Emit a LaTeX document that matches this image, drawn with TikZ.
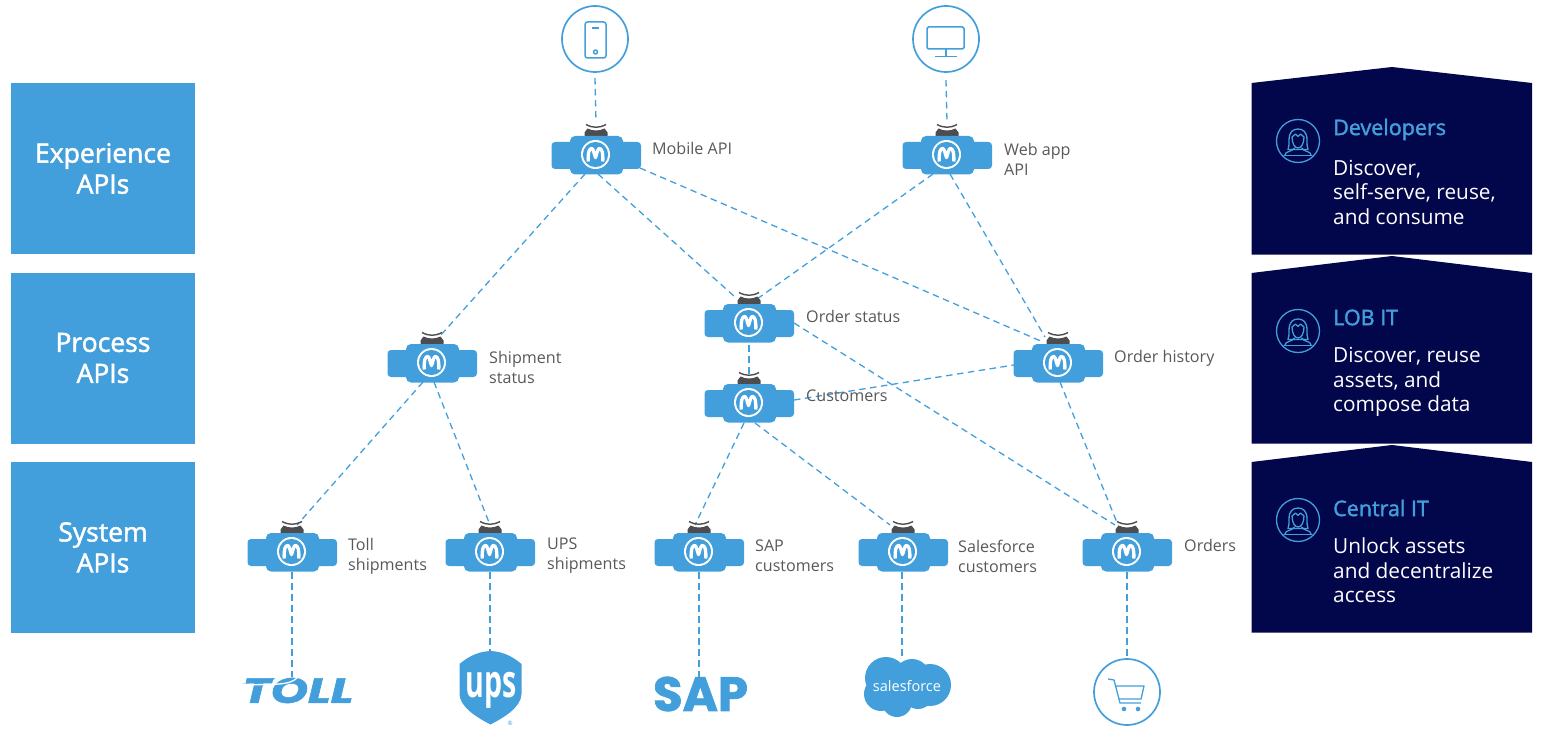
\documentclass[tikz,border=0pt]{standalone}
\usepackage{fontspec}
\setmainfont{Open Sans}
\newfontfamily\medfont[FakeBold=1.8]{Open Sans}
\newfontfamily\logofont[FakeBold=1.5]{Poppins}
\usetikzlibrary{backgrounds}
\definecolor{mblue}{HTML}{439FDB}
\definecolor{navy}{HTML}{02064A}
\definecolor{tabgray}{HTML}{4D4D4F}
\definecolor{labelgray}{HTML}{58585A}
\tikzset{
  conn/.style={draw=mblue,line width=1.3pt,dash pattern=on 6.5pt off 4.5pt},
  tier/.style={fill=mblue,draw=none,text=white,minimum width=184pt,minimum height=171pt,inner sep=0pt,align=center,font=\medfont\fontsize{26.5}{31}\selectfont},
  apibox/.style={draw=none,minimum width=90pt,minimum height=38pt,inner sep=0pt},
  apilabel/.style={text=labelgray,anchor=west,align=left,inner sep=0pt,font=\fontsize{16.1}{20}\selectfont},
  icon/.style={draw=mblue,line width=1.7pt,fill=white,circle,minimum size=66pt,inner sep=0pt},
  glyph/.style={draw=mblue,line width=1.5pt,line join=round},
  title/.style={text=mblue,anchor=west,inner sep=0pt,font=\medfont\fontsize{21.5}{24}\selectfont},
  bodytext/.style={text=white,anchor=north west,align=left,inner sep=0pt,font=\fontsize{20.8}{24.5}\selectfont},
  persona/.style={draw=mblue,line width=1.3pt,line join=round,line cap=round}
}
% name, x, y
\newcommand{\apinode}[3]{%
  \node[apibox] (#1) at (#2,#3) {};
  \begin{scope}[shift={(#2,#3)}]
    \fill[tabgray] (-11.5,-18) -- (-11.5,-22.5) -- (-8.5,-26.5) .. controls (-3,-23.8) and (3,-23.8) .. (8.5,-26.5) -- (11.5,-22.5) -- (11.5,-18) -- cycle;
    \fill[mblue,rounded corners=3.5pt] (-44.5,-13) rectangle (45,14);
    \fill[mblue,rounded corners=5pt] (-26,-19) rectangle (27,19.5);
    \draw[tabgray,line width=1.4pt] (-10,-30.5) .. controls (-3,-26.8) and (3,-26.8) .. (10,-30.5);
    \fill[white] (-0.5,-0.5) circle (14.5);
    \fill[mblue] (-0.5,-0.5) circle (12.6);
    \draw[white,line width=3.3pt,line join=round,line cap=butt]
      (-7.8,6.5) .. controls (-8.2,-2) and (-7,-6.6) .. (-4.3,-6.6)
      .. controls (-2.6,-6.6) and (-1.6,0) .. (-0.5,2.6)
      .. controls (0.6,0) and (1.6,-6.6) .. (3.3,-6.6)
      .. controls (6,-6.6) and (7.2,-2) .. (6.8,6.5);
  \end{scope}
}
% x, y of the persona icon
\newcommand{\personicon}[2]{%
  \begin{scope}[shift={(#1,#2)}]
    \draw[persona] (0,0) circle (21.5);
    \draw[persona] (-9,-1) .. controls (-9,-9) and (-5,-12) .. (0,-12) .. controls (5,-12) and (9,-9) .. (9,-1)
      .. controls (9,3) and (9,6) .. (10,8.5) -- (-10,8.5) .. controls (-9,6) and (-9,3) .. (-9,-1);
    \draw[persona] (-6,-4) -- (-2.5,-7) -- (0,-4.5) -- (2.5,-7) -- (6,-4) .. controls (6,3) and (3,7) .. (0,7) .. controls (-3,7) and (-6,3) .. (-6,-4);
    \draw[persona] (-13,14) .. controls (-13,10) and (-6,11) .. (-3.5,7);
    \draw[persona] (13,14) .. controls (13,10) and (6,11) .. (3.5,7);
    \draw[persona] (-14,14.5) -- (14,14.5);
  \end{scope}
}
\begin{document}
\begin{tikzpicture}[x=1pt,y=-1pt]
\useasboundingbox (0,0) rectangle (1541,738);
% tiers
\node[tier] (exp) at (103,168.5) {Experience\\APIs};
\node[tier] (proc) at (103,358) {Process\\APIs};
\node[tier] (sys) at (103,547.5) {System\\APIs};
% audience panels
\fill[navy] (1251.5,83) -- (1392,67) -- (1532,83) -- (1532,254.5) -- (1251.5,254.5) -- cycle;
\fill[navy] (1251.5,273) -- (1392,256) -- (1532,273) -- (1532,443.5) -- (1251.5,443.5) -- cycle;
\fill[navy] (1251.5,462) -- (1392,445) -- (1532,462) -- (1532,632.5) -- (1251.5,632.5) -- cycle;
\personicon{1298}{141}
\personicon{1298}{331}
\personicon{1298}{520}
\node[title] (t1) at (1333,129.5) {Developers};
\node[bodytext] (b1) at (1333,160) {Discover,\\self-serve, reuse,\\and consume};
\node[title] (t2) at (1333,317.5) {LOB IT};
\node[bodytext] (b2) at (1333,347.5) {Discover, reuse\\assets, and\\compose data};
\node[title] (t3) at (1333,508) {Central IT};
\node[bodytext] (b3) at (1333,537.5) {Unlock assets\\and decentralize\\access};
% api nodes
\apinode{mobile}{596}{155}
\apinode{webapp}{947}{155}
\apinode{orderstatus}{749}{323}
\apinode{shipment}{432}{363}
\apinode{customers}{749}{403}
\apinode{orderhistory}{1058}{363}
\apinode{toll}{292}{552}
\apinode{ups}{490}{552}
\apinode{sap}{699}{552}
\apinode{sfdc}{903}{552}
\apinode{orders}{1127}{552}
% end points
\node[icon] (phone) at (595,39) {};
\node[icon] (desktop) at (946,39) {};
\node[icon] (cart) at (1127,692) {};
\draw[glyph,rounded corners=2.5pt] (585,22) rectangle (606,58);
\draw[glyph] (592,28) -- (599,28);
\draw[glyph] (595.5,52) circle (2);
\draw[glyph,rounded corners=1.5pt] (927,27) rectangle (964,49);
\draw[glyph] (946,49) -- (946,56) (935,56.5) -- (957,56.5);
\draw[glyph,line width=1.3pt] (1108,679) -- (1114,680) -- (1120,703) -- (1141,703) (1116,686) -- (1144,686) -- (1141,699) -- (1119,699);
\fill[mblue] (1124,709) circle (2.3) (1138,709) circle (2.3);
% logos
\node[inner sep=0pt,text=mblue,xscale=1.36] (tolllogo) at (298,690.5) {\logofont\bfseries\itshape\fontsize{35}{35}\selectfont TOLL};
\draw[white,line width=1.3pt] (238,685) .. controls (275,684) and (290,686) .. (298,677);
\fill[mblue] (242,684) -- (275,678) -- (272,681) -- cycle;
\fill[mblue] (459.5,664) .. controls (470,655) and (480,651.5) .. (490.5,651) .. controls (501,651.5) and (511,655) .. (521.5,664)
  -- (521.5,694) .. controls (521,707) and (505,717) .. (490.5,724.5) .. controls (476,717) and (460,707) .. (459.5,694) -- cycle;
\node[inner sep=0pt,text=white,xscale=0.68,yscale=1.08] (upslogo) at (491,690) {\fontsize{42}{42}\selectfont\bfseries ups};
\node[inner sep=0pt,text=mblue] (upsreg) at (510,723) {\fontsize{6}{6}\selectfont ®};
\node[inner sep=0pt,text=mblue] (saplogo) at (700.5,694) {\logofont\bfseries\fontsize{48}{48}\selectfont SAP};
\fill[mblue] (886,678) circle (21) (912,677) circle (18) (930,685) circle (21) (881,694) circle (17) (897,702) circle (15) (918,694) circle (15) (905,685) circle (20);
\node[inner sep=0pt,text=white] (sflogo) at (907,686) {\fontsize{14.5}{14.5}\selectfont salesforce};
% free ends of the connectors on the logos
\coordinate (tollend) at (292,677);
\coordinate (upsend) at (490,652);
\coordinate (sapend) at (699,680);
\coordinate (sfend) at (902,658);
% connectors
\begin{scope}[on background layer]
\draw[conn] ([shift={(0,39)}]phone.center) -- ([shift={(0,-33)}]mobile.center);
\draw[conn] ([shift={(0,41)}]desktop.center) -- ([shift={(0,-33)}]webapp.center);
\draw[conn] ([shift={(-11,19)}]mobile.center) -- ([shift={(8,-27)}]shipment.center);
\draw[conn] ([shift={(2,19)}]mobile.center) -- ([shift={(-14,-26)}]orderstatus.center);
\draw[conn] ([shift={(44,13)}]mobile.center) -- ([shift={(-15,-21)}]orderhistory.center);
\draw[conn] ([shift={(-14,19)}]webapp.center) -- ([shift={(8,-24)}]orderstatus.center);
\draw[conn] ([shift={(3,19)}]webapp.center) -- ([shift={(-13,-26)}]orderhistory.center);
\draw[conn] ([shift={(0,22)}]orderstatus.center) -- ([shift={(0,-28)}]customers.center);
\draw[conn] ([shift={(45,0)}]orderstatus.center) -- ([shift={(-12,-27)}]orders.center);
\draw[conn] ([shift={(45,-3)}]customers.center) -- ([shift={(-44,2)}]orderhistory.center);
\draw[conn] ([shift={(-5,20)}]customers.center) -- ([shift={(-4,-27)}]sap.center);
\draw[conn] ([shift={(6,20)}]customers.center) -- ([shift={(-13,-27)}]sfdc.center);
\draw[conn] ([shift={(-9,19)}]shipment.center) -- ([shift={(5,-27)}]toll.center);
\draw[conn] ([shift={(2,19)}]shipment.center) -- ([shift={(0,-27)}]ups.center);
\draw[conn] ([shift={(2,19)}]orderhistory.center) -- ([shift={(-9,-27)}]orders.center);
\draw[conn] ([shift={(0,20)}]toll.center) -- (tollend);
\draw[conn] ([shift={(0,20)}]ups.center) -- (upsend);
\draw[conn] ([shift={(0,20)}]sap.center) -- (sapend);
\draw[conn] ([shift={(-1,20)}]sfdc.center) -- (sfend);
\draw[conn] ([shift={(0,20)}]orders.center) -- (cart);
\end{scope}
% labels
\node[apilabel] (l1) at (652,148) {Mobile API};
\node[apilabel] (l2) at (1004,159) {Web app\\API};
\node[apilabel] (l3) at (806,316) {Order status};
\node[apilabel] (l4) at (489,367.5) {Shipment\\status};
\node[apilabel] (l5) at (806,396) {Customers};
\node[apilabel] (l6) at (1114,358) {Order history};
\node[apilabel] (l7) at (348,556) {Toll\\shipments};
\node[apilabel] (l8) at (547,556) {UPS\\shipments};
\node[apilabel] (l9) at (755,556) {SAP\\customers};
\node[apilabel] (l10) at (958,556) {Salesforce\\customers};
\node[apilabel] (l11) at (1184,545.5) {Orders};
\end{tikzpicture}
\end{document}
